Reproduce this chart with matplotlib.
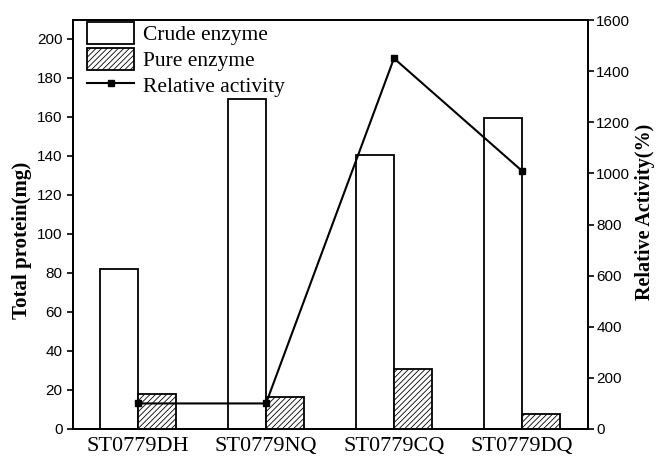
import matplotlib
matplotlib.use("Agg")
import matplotlib.pyplot as plt
import matplotlib.ticker as mticker
from matplotlib.lines import Line2D
from matplotlib.patches import Patch
import numpy as np

# data
strains = ["ST0779DH", "ST0779NQ", "ST0779CQ", "ST0779DQ"]
crude_protein = [82, 169, 140.5, 159.5]
pure_protein = [18, 16.2, 31, 7.7]
relative_activity = [100, 100, 1450, 1010]

SERIF = "Liberation Serif"
SANS = "Liberation Sans"

plt.rcParams["hatch.linewidth"] = 0.6
plt.rcParams["hatch.color"] = "#555555"

fig = plt.figure(figsize=(6.59, 4.62), dpi=100)
ax = fig.add_axes([73 / 659, 1 - 429 / 462, 515 / 659, 409 / 462])

x = np.arange(len(strains))
w = 0.297
lw = 1.3
ax.bar(x - w / 2, crude_protein, w, facecolor="white", edgecolor="black", linewidth=lw, zorder=2)
ax.bar(x + w / 2, pure_protein, w, facecolor="white", edgecolor="black", linewidth=lw,
       hatch="//////", zorder=2)

ax.set_xlim(-0.508, 3.516)
ax.set_ylim(0, 209.7)
ax.yaxis.set_major_locator(mticker.MultipleLocator(20))
ax.set_xticks(x)
ax.set_xticklabels(strains, fontfamily=SERIF, fontsize=16)
ax.tick_params(axis="x", length=0, pad=6)
ax.tick_params(axis="y", direction="out", length=4, width=1.2, labelsize=11)
for lab in ax.get_yticklabels():
    lab.set_fontfamily(SANS)
ax.set_ylabel("Total protein(mg)", fontfamily=SERIF, fontweight="bold", fontsize=15)
ax.yaxis.set_label_coords(-0.08, 0.46)
for s in ax.spines.values():
    s.set_linewidth(1.3)

ax2 = ax.twinx()
ax2.plot(x, relative_activity, color="black", linewidth=1.5, marker="s", markersize=5, zorder=3)
ax2.set_ylim(0, 1600)
ax2.yaxis.set_major_locator(mticker.MultipleLocator(200))
ax2.tick_params(axis="y", direction="out", length=4, width=1.2, labelsize=11, pad=2)
for lab in ax2.get_yticklabels():
    lab.set_fontfamily(SANS)
ax2.set_ylabel("Relative Activity(%)", fontfamily=SERIF, fontweight="bold", fontsize=14.5)
ax2.yaxis.set_label_coords(1.0913, 0.53)
for s in ax2.spines.values():
    s.set_linewidth(1.3)

handles = [
    Patch(facecolor="white", edgecolor="black", linewidth=lw),
    Patch(facecolor="white", edgecolor="black", linewidth=lw, hatch="//////"),
    Line2D([0], [0], color="black", linewidth=1.5, marker="s", markersize=5),
]
leg = ax2.legend(handles, ["Crude enzyme", "Pure enzyme", "Relative activity"],
                 loc="upper left", bbox_to_anchor=(14 / 515, 1 - 2 / 409), frameon=False,
                 prop={"family": SERIF, "size": 15.5}, borderpad=0, borderaxespad=0,
                 handlelength=2.2, handleheight=1.2, handletextpad=0.4, labelspacing=0.12)

fig.savefig("out.png", dpi=100)
